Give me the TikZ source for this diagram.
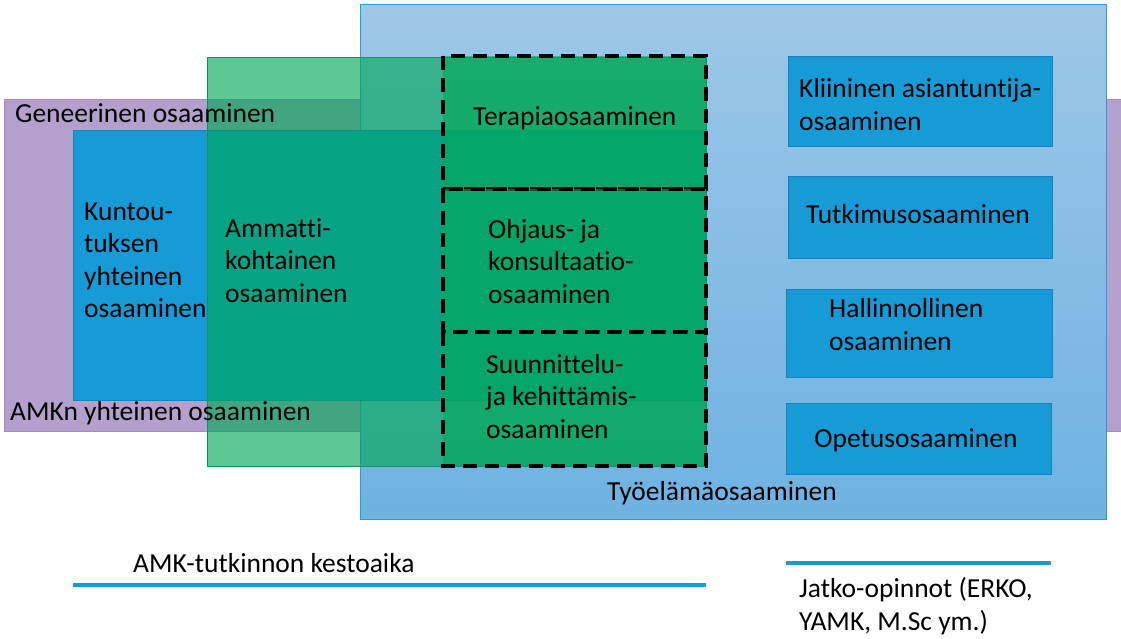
\documentclass[tikz,border=0pt]{standalone}
\usepackage{fontspec}
\setmainfont{Carlito}[Ligatures=NoCommon]
\usepackage{tikz}

\definecolor{lila}{RGB}{180,160,204}
\definecolor{lilareuna}{RGB}{165,140,195}
\definecolor{vaalea1}{RGB}{157,199,231}
\definecolor{vaalea2}{RGB}{110,178,226}
\definecolor{vaaleareuna}{RGB}{40,155,220}
\definecolor{sininen}{RGB}{23,155,215}
\definecolor{sininenreuna}{RGB}{25,130,190}
\definecolor{vihrea}{RGB}{0,168,86}
\definecolor{vihreareuna}{RGB}{20,140,110}

\begin{document}
\begin{tikzpicture}[x=1pt,y=-1pt,
    txt/.style={font=\fontsize{27.5}{32.5}\selectfont, inner sep=0pt, align=left},
    laatikko/.style={fill=sininen, draw=sininenreuna, line width=1pt},
    katko/.style={fill=vihrea, fill opacity=0.6, draw=black, line width=3.3pt, dash pattern=on 14pt off 8pt},
    jana/.style={draw=sininen, line width=3.5pt}]
  \useasboundingbox (0,0) rectangle (1121,638);
  % taustat
  \draw[fill=lila, draw=lilareuna, line width=1pt] (4,99) rectangle (1125,431);
  \draw[top color=vaalea1, bottom color=vaalea2, draw=vaaleareuna, line width=1pt] (360,4) rectangle (1106,519);
  \draw[laatikko] (73,130) rectangle (706,400);
  \draw[fill=vihrea, fill opacity=0.63, draw=vihreareuna, line width=1pt] (207,57) rectangle (706,466);
  % katkoviivalaatikot
  \draw[katko] (443,56) rectangle (706,189);
  \draw[katko] (443,189) rectangle (706,332);
  \draw[katko] (443,332) rectangle (706,466);
  % oikeat laatikot
  \draw[laatikko] (788,56) rectangle (1052,146);
  \draw[laatikko] (788,176) rectangle (1052,258);
  \draw[laatikko] (786,289) rectangle (1052,377);
  \draw[laatikko] (786,403) rectangle (1051,474);

  % monirivisissa base = viimeisen rivin perusviiva
  \node[txt, anchor=base west] (geneerinen) at (15,122) {Geneerinen osaaminen};
  \node[txt, anchor=base west] (amkn) at (10,420) {AMKn yhteinen osaaminen};
  \node[txt, anchor=base west] (kuntoutus) at (84,317.5) {Kuntou-\\tuksen\\yhteinen\\osaaminen};
  \node[txt, anchor=base west] (ammatti) at (225,302) {Ammatti-\\kohtainen\\osaaminen};
  \node[txt, anchor=base west] (terapia) at (473,125) {Terapiaosaaminen};
  \node[txt, anchor=base west] (ohjaus) at (488,303) {Ohjaus- ja\\konsultaatio-\\osaaminen};
  \node[txt, anchor=base west] (suunnittelu) at (486,438) {Suunnittelu-\\ja kehittämis-\\osaaminen};
  \node[txt, anchor=base west] (kliininen) at (799,130) {Kliininen asiantuntija-\\osaaminen};
  \node[txt, anchor=base] (tutkimus) at (918,223) {Tutkimusosaaminen};
  \node[txt, anchor=base west] (hallinto) at (829,350) {Hallinnollinen\\osaaminen};
  \node[txt, anchor=base] (opetus) at (916,447) {Opetusosaaminen};
  \node[txt, anchor=base west] (tyoelama) at (607,500) {Työelämäosaaminen};

  % kestot
  \node[txt, anchor=base west] (kesto) at (133,572) {AMK-tutkinnon kestoaika};
  \draw[jana] (73,585) -- (706,585);
  \draw[jana] (786,563) -- (1051,563);
  \node[txt, anchor=base west] (jatko) at (799,630) {Jatko-opinnot (ERKO,\\YAMK, M.Sc ym.)};
\end{tikzpicture}
\end{document}
